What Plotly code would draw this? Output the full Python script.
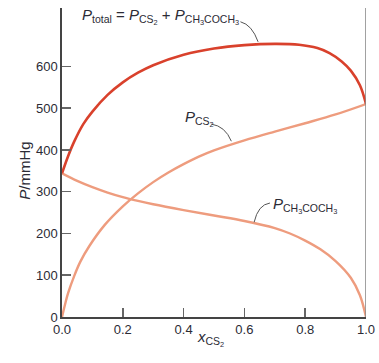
import plotly.graph_objects as go

# ---- data ----
x_cs2_a = [0.0, 0.01, 0.02, 0.04, 0.06, 0.09, 0.14, 0.2, 0.25, 0.3, 0.35, 0.4, 0.45, 0.5, 0.6, 0.7, 0.8, 0.9, 1.0]
p_cs2 = [0, 30, 57, 98, 132, 170, 220, 265, 296, 323, 346, 366, 384, 399, 423, 444, 464, 485, 510]

x_cs2_b = [0.0, 0.05, 0.1, 0.15, 0.2, 0.25, 0.3, 0.4, 0.5, 0.6, 0.7, 0.75, 0.8, 0.85, 0.9, 0.95, 0.98, 1.0]
p_acetone = [344, 326, 311, 298, 287, 278, 270, 256, 243, 230, 213, 200, 183, 162, 134, 94, 52, 0]

x_cs2_c = [0.0, 0.02, 0.04, 0.07, 0.1, 0.15, 0.2, 0.25, 0.3, 0.4, 0.5, 0.6, 0.7, 0.78, 0.84, 0.88, 0.92, 0.95, 0.98, 1.0]
p_total = [344, 385, 420, 462, 492, 532, 562, 585, 603, 628, 643, 651, 654, 652, 644, 632, 612, 590, 555, 510]

y_ticks = [0, 100, 200, 300, 400, 500, 600]
x_ticks = [0.0, 0.2, 0.4, 0.6, 0.8, 1.0]
x_tick_labels = ["0.0", "0.2", "0.4", "0.6", "0.8", "1.0"]

RED = "#d9412c"
SALMON = "#ee9c7e"
TXT = "#2b2b35"
FONT = "Liberation Sans, Arial, sans-serif"

fig = go.Figure()
fig.add_trace(go.Scatter(x=x_cs2_a, y=p_cs2, mode="lines", hoverinfo="skip",
                         line=dict(color=SALMON, width=2.4, shape="spline", smoothing=1.0)))
fig.add_trace(go.Scatter(x=x_cs2_b, y=p_acetone, mode="lines", hoverinfo="skip",
                         line=dict(color=SALMON, width=2.4, shape="spline", smoothing=1.0)))
fig.add_trace(go.Scatter(x=x_cs2_c, y=p_total, mode="lines", hoverinfo="skip",
                         line=dict(color=RED, width=2.6, shape="spline", smoothing=1.0)))

# right-hand border line
fig.add_shape(type="line", xref="x", yref="paper", x0=1, x1=1, y0=0, y1=1,
              line=dict(color="#8a8a8a", width=1.6))

# leader lines
leader = dict(color="#555555", width=1)
fig.add_shape(type="path", xref="x", yref="y",
              path="M 0.587 707 Q 0.625 700 0.645 659", line=leader)
fig.add_shape(type="path", xref="x", yref="y",
              path="M 0.491 462 Q 0.537 457 0.557 421", line=leader)
fig.add_shape(type="path", xref="x", yref="y",
              path="M 0.684 273 Q 0.645 269 0.632 227", line=leader)

ann_font = dict(family=FONT, size=15, color=TXT)
fig.add_annotation(x=0.058, y=719, xref="x", yref="y", xanchor="left", yanchor="middle",
                   showarrow=False, font=ann_font,
                   text="<i>P</i><sub>total</sub> = <i>P</i><sub>CS<sub>2</sub></sub> + <i>P</i><sub>CH<sub>3</sub>COCH<sub>3</sub></sub>")
fig.add_annotation(x=0.397, y=476, xref="x", yref="y", xanchor="left", yanchor="middle",
                   showarrow=False, font=ann_font,
                   text="<i>P</i><sub>CS<sub>2</sub></sub>")
fig.add_annotation(x=0.689, y=268, xref="x", yref="y", xanchor="left", yanchor="middle",
                   showarrow=False, font=ann_font,
                   text="<i>P</i><sub>CH<sub>3</sub>COCH<sub>3</sub></sub>")
fig.add_annotation(x=-0.158, y=0.475, xref="paper", yref="paper", textangle=-90,
                   showarrow=False, font=dict(family=FONT, size=15, color=TXT), text="<i>P</i>/mmHg")
fig.add_annotation(x=0.49, y=-0.11, xref="paper", yref="paper",
                   showarrow=False, font=dict(family=FONT, size=15, color=TXT),
                   text="<i>x</i><sub>CS<sub>2</sub></sub>")

fig.update_layout(
    width=379, height=363,
    margin=dict(l=62, r=13, t=8, b=46, autoexpand=False),
    paper_bgcolor="white", plot_bgcolor="white",
    showlegend=False, hovermode=False,
    font=dict(family=FONT, size=13, color=TXT),
)
fig.update_xaxes(range=[0, 1], tickvals=x_ticks, ticktext=x_tick_labels, automargin=False,
                 showgrid=False, zeroline=False, showline=True, linecolor="#444444", linewidth=1.6,
                 ticks="inside", ticklen=9, tickwidth=1.5, tickcolor="#666666",
                 tickfont=dict(family=FONT, size=13, color=TXT))
fig.update_yaxes(range=[0, 740], tickvals=y_ticks, automargin=False,
                 showgrid=False, zeroline=False, showline=True, linecolor="#444444", linewidth=1.6,
                 ticks="inside", ticklen=9, tickwidth=1.5, tickcolor="#666666",
                 tickfont=dict(family=FONT, size=13, color=TXT))

# remove the default page margin so the figure fills the window exactly
fig.write_html("out.html", config={"displayModeBar": False, "staticPlot": True},
               post_script="document.body.style.margin='0';document.body.style.overflow='hidden';")
